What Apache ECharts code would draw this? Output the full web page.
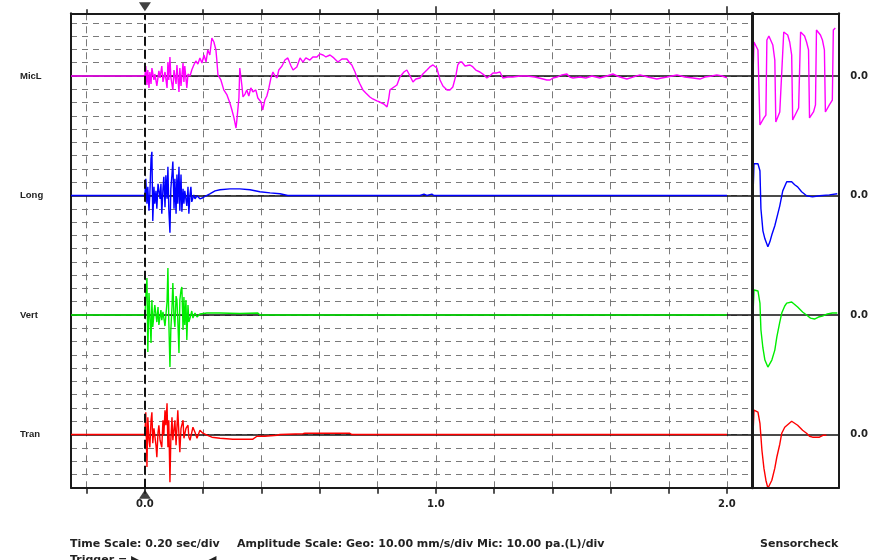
<!DOCTYPE html>
<html><head><meta charset="utf-8">
<script src="https://cdn.jsdelivr.net/npm/echarts@6/dist/echarts.min.js"></script>
<style>html,body{margin:0;padding:0;background:#fff}#c{width:871px;height:560px}</style>
</head><body><div id="c"></div>
<script>
// ---------------- data ----------------
const channels = ['MicL', 'Long', 'Vert', 'Tran'];
const channelColors = ['#ff00ff', '#0000ff', '#00ee00', '#ff0000'];
const sensorZeroLabels = ['0.0', '0.0', '0.0', '0.0'];
const timeTicks = [-0.2, 0, 0.2, 0.4, 0.6, 0.8, 1.0, 1.2, 1.4, 1.6, 1.8, 2.0];
const timeLabels = [0, 1, 2];
const triggerTime = [0];

// main records: [time s, amplitude mm/s (mic: pa)]
const micMain = [[-0.254,0],[-0.232,0],[-0.230,-1.5],[-0.228,0],[-0.105,0],[-0.103,-1.5],[-0.101,0],[-0.029,0],[-0.027,-1.5],[-0.025,0],
[0.000,0],[0.003,7.5],[0.007,-6.8],[0.010,4.5],[0.014,-9.0],[0.017,3.0],[0.021,-6.0],[0.024,6.0],[0.031,-3.0],[0.034,1.5],[0.041,-7.5],[0.048,3.8],[0.052,-1.5],[0.058,7.5],[0.062,-4.5],[0.069,3.0],[0.076,-9.0],[0.079,10.5],[0.082,-3.0],[0.086,14.3],[0.089,-0.8],[0.096,-10.5],[0.100,4.5],[0.107,-6.0],[0.110,8.3],[0.117,-12.0],[0.120,6.0],[0.124,-7.5],[0.131,9.8],[0.134,-4.5],[0.137,7.5],[0.144,-9.0],[0.148,1.5],[0.155,0],
[0.161,4.5],[0.168,8.3],[0.175,11.3],[0.182,9.0],[0.189,13.6],[0.196,9.8],[0.203,15.8],[0.210,10.5],[0.216,19.6],[0.223,15.8],[0.230,28.6],[0.237,25.6],[0.244,19.6],[0.247,12.0],[0.251,0.8],[0.261,-3.0],[0.271,-10.5],[0.282,-14.3],[0.292,-20.3],[0.299,-25.6],[0.306,-31.6],[0.313,-39.2],[0.316,-33.1],[0.323,-16.6],[0.326,6.0],[0.333,-6.8],[0.337,-15.8],[0.344,-13.6],[0.350,-10.5],[0.357,-15.1],[0.364,-9.0],[0.371,-12.0],[0.381,-10.5],[0.388,-16.6],[0.399,-19.6],[0.405,-25.6],[0.412,-18.1],[0.419,-15.1],[0.426,-9.0],[0.433,-1.5],[0.440,3.0],[0.447,0],[0.454,-1.5],[0.460,4.5],[0.471,7.5],[0.481,12.0],[0.491,13.6],[0.502,7.5],[0.509,4.5],[0.515,6.0],[0.522,6.8],[0.533,13.6],[0.543,10.5],[0.553,13.6],[0.567,12.0],[0.577,14.3],[0.591,14.3],[0.601,16.6],[0.612,15.8],[0.622,14.3],[0.636,15.8],[0.649,13.6],[0.663,10.5],[0.677,12.8],[0.694,12.8],[0.704,9.8],[0.711,8.3],[0.722,3.0],[0.728,-0.8],[0.739,-6.0],[0.749,-10.5],[0.759,-12.8],[0.773,-15.8],[0.783,-17.3],[0.797,-18.8],[0.807,-19.6],[0.821,-21.1],[0.832,-23.3],[0.838,-16.6],[0.842,-10.5],[0.856,-8.3],[0.866,-6.8],[0.876,-0.8],[0.890,3.0],[0.900,4.5],[0.911,0],[0.921,-4.5],[0.931,-2.3],[0.945,-1.5],[0.955,1.5],[0.969,4.5],[0.979,6.8],[0.990,8.3],[0.996,9.0],[1.003,6.0],[1.014,-3.0],[1.024,-7.5],[1.038,-10.5],[1.048,-10.5],[1.058,-8.3],[1.069,0.8],[1.075,8.3],[1.082,10.5],[1.089,10.5],[1.100,7.5],[1.106,6.8],[1.117,8.3],[1.127,6.8],[1.137,4.5],[1.151,3.0],[1.165,0.8],[1.175,-1.5],[1.185,0],[1.196,2.3],[1.209,2.3],[1.220,3.0],[1.230,-1.5],[1.247,-0.8],[1.264,-0.8],[1.289,0],[1.313,0],[1.340,-0.8],[1.368,-2.3],[1.381,-3.0],[1.392,-3.0],[1.402,-1.5],[1.416,-0.8],[1.433,0.8],[1.450,1.5],[1.460,-0.8],[1.471,-1.5],[1.495,-0.8],[1.515,-1.5],[1.536,0],[1.563,-1.5],[1.587,0],[1.608,1.5],[1.632,-0.8],[1.656,-2.3],[1.677,-0.8],[1.701,0.8],[1.728,-0.8],[1.759,-2.3],[1.776,-1.5],[1.794,-0.8],[1.811,0],[1.828,0.8],[1.855,-0.8],[1.883,-1.5],[1.907,-2.3],[1.924,-0.8],[1.948,0],[1.965,0.8],[1.983,0],[2.000,-1.5]];

const longMain = [[-0.254,0],[0.000,0],[0.003,12.6],[0.007,-6.2],[0.010,6.5],[0.014,-11.5],[0.017,1.3],[0.021,27.6],[0.024,32.9],[0.027,-19.1],[0.031,6.5],[0.034,-6.2],[0.038,3.5],[0.041,-10.0],[0.045,8.8],[0.052,-2.5],[0.055,8.8],[0.058,-13.8],[0.062,5.0],[0.065,14.1],[0.069,-8.8],[0.072,15.3],[0.076,-2.5],[0.079,21.6],[0.082,-10.0],[0.086,-28.1],[0.089,5.0],[0.093,15.8],[0.096,25.6],[0.100,-10.0],[0.103,12.6],[0.107,-13.8],[0.110,15.8],[0.113,-6.2],[0.117,21.6],[0.120,-11.5],[0.124,15.8],[0.127,-12.3],[0.131,5.0],[0.134,-6.2],[0.137,3.5],[0.144,-7.8],[0.148,6.5],[0.151,-13.8],[0.155,1.3],[0.158,6.5],[0.161,-4.8],[0.168,0.5],[0.172,-2.5],[0.179,-0.2],[0.189,-2.5],[0.199,-1.7],[0.210,-0.2],[0.223,1.3],[0.241,3.5],[0.258,4.3],[0.292,5.0],[0.326,5.0],[0.361,4.3],[0.395,2.8],[0.430,2.0],[0.464,1.3],[0.491,0],[0.931,0],[0.935,1.0],[0.945,0],[0.959,1.0],[0.969,0],[0.986,1.0],[0.993,0],[1.055,0],[1.058,1.0],[1.062,0],[1.447,0],[1.450,1.0],[1.454,0],[2.000,0]];

const vertMain = [[-0.254,0],[0.000,0],[0.003,13.6],[0.007,27.9],[0.010,-27.9],[0.014,16.6],[0.021,-21.1],[0.024,11.3],[0.027,-9.0],[0.034,7.5],[0.041,-5.3],[0.045,6.0],[0.048,-7.5],[0.055,3.8],[0.058,-3.8],[0.062,2.3],[0.069,-8.3],[0.076,9.8],[0.079,35.4],[0.082,-3.8],[0.086,-39.2],[0.089,-11.3],[0.093,6.0],[0.096,24.1],[0.100,-2.3],[0.103,-9.0],[0.107,14.3],[0.110,11.3],[0.113,-3.8],[0.117,-28.6],[0.120,11.3],[0.124,18.8],[0.127,21.1],[0.131,-11.3],[0.134,13.6],[0.137,-7.5],[0.141,11.3],[0.144,-18.8],[0.148,7.5],[0.151,-5.3],[0.155,-2.3],[0.161,3.0],[0.165,-2.3],[0.172,1.5],[0.179,-1.5],[0.189,0.8],[0.213,1.5],[0.258,1.5],[0.326,1.1],[0.388,1.5],[0.395,0],[2.000,0]];

const tranMain = [[-0.254,0],[0.000,0],[0.003,16.8],[0.007,-24.5],[0.010,13.0],[0.014,-4.3],[0.017,-9.6],[0.021,10.8],[0.024,16.8],[0.027,-6.5],[0.031,4.7],[0.034,3.2],[0.038,-8.1],[0.041,-17.1],[0.045,1.7],[0.048,7.0],[0.052,-4.3],[0.058,-9.6],[0.062,10.8],[0.065,-0.5],[0.069,18.3],[0.072,7.0],[0.076,23.6],[0.079,-9.6],[0.082,10.8],[0.086,-35.9],[0.089,-4.3],[0.093,13.0],[0.096,-4.3],[0.103,10.8],[0.107,-8.1],[0.113,18.3],[0.117,-0.5],[0.120,-13.3],[0.124,4.7],[0.131,10.8],[0.134,-2.8],[0.137,-4.3],[0.141,4.7],[0.148,7.0],[0.151,-2.0],[0.155,-4.3],[0.161,-5.8],[0.165,5.5],[0.172,1.7],[0.179,-2.8],[0.189,3.2],[0.199,1.0],[0.213,-0.5],[0.230,-2.0],[0.258,-2.8],[0.302,-3.5],[0.371,-3.5],[0.385,-1.3],[0.412,-1.3],[0.454,-0.5],[0.464,0],[0.543,0.6],[0.550,1.0],[0.704,1.0],[0.711,0],[2.000,0]];

// sensorcheck records: [time ms, amplitude]
const micSensor = [[0,0],[1,25.6],[3,24.1],[5,19.6],[7,-36.9],[9,-38.4],[11,-31.6],[13,-29.4],[14,27.1],[16,30.1],[18,31.6],[20,23.3],[22,12.0],[23,-34.6],[25,-36.1],[27,-27.1],[29,-25.6],[31,33.1],[33,34.6],[35,30.9],[37,25.6],[39,15.8],[40,-33.1],[42,-34.6],[44,-27.1],[46,-24.1],[48,33.1],[50,34.6],[52,30.1],[54,25.6],[56,19.6],[57,-31.6],[59,-33.1],[61,-27.1],[63,-21.8],[64,34.6],[66,36.1],[68,30.9],[70,27.1],[72,19.6],[73,-27.1],[75,-28.6],[77,-21.8],[80,-18.1],[81,34.6],[83,36.1]];
const longSensor = [[0,0],[1,23.9],[5,23.9],[7,18.6],[8,-10.0],[10,-26.6],[12,-32.6],[15,-38.6],[17,-34.9],[19,-29.6],[22,-22.8],[25,-13.8],[27,-7.8],[30,3.5],[34,10.3],[39,10.3],[42,8.1],[45,6.5],[49,2.8],[54,-0.2],[60,-1.0],[67,-0.2],[77,0.5],[85,1.3]];
const vertSensor = [[0,0],[1,18.8],[5,18.1],[7,9.0],[8,-11.3],[10,-24.8],[12,-33.9],[15,-39.2],[19,-33.9],[22,-26.4],[24,-16.6],[27,-5.3],[29,1.5],[32,6.8],[34,9.0],[39,9.8],[45,6.0],[50,2.3],[54,0],[58,-2.3],[62,-3.0],[66,-1.5],[70,-0.8],[75,0.8],[80,1.5],[85,1.5]];
const tranSensor = [[0,0],[1,18.3],[5,16.8],[7,8.5],[9,-11.8],[11,-25.3],[13,-34.4],[15,-40.4],[17,-38.9],[19,-34.4],[22,-25.3],[24,-17.1],[27,-7.3],[29,1.0],[32,5.5],[34,7.0],[39,10.0],[42,8.5],[45,7.0],[50,3.2],[54,1.0],[57,-1.3],[60,-2.0],[67,-2.0],[71,-0.5],[74,-0.5]];

const mainRecords = [micMain, longMain, vertMain, tranMain];
const sensorRecords = [micSensor, longSensor, vertSensor, tranSensor];

// ---------------- layout ----------------
const FONT = '"Liberation Sans", Arial, sans-serif';
const WIDE = '"DejaVu Sans", Verdana, sans-serif';
const PL = 71, PT = 13.3, DIV = 13.28, MW = 681;
const SL = 753, SW = 86;
const BAND = 9 * DIV;
const BG_H = 35.72 * DIV;
const T_MIN = -0.254, T_MAX = 2.086;
const S_MIN = 0, S_MAX = 86;
const AMP_MIN = -42.8, AMP_MAX = 47.2;   // 10 mm/s per division
const DIV_MIN = -4, DIV_MAX = 31.72;
const INK = '#1a1a1a';
const GRIDC = '#7a7a7a';

const grid = [], xAxis = [], yAxis = [], series = [];
const off = {show: false};

// background main box (grid 0)
grid.push({left: PL, top: PT, width: MW, height: BG_H});
// background sensorcheck box (grid 1)
grid.push({left: SL, top: PT, width: SW, height: BG_H});

xAxis.push({gridIndex: 0, type: 'value', position: 'bottom', min: T_MIN, max: T_MAX, minInterval: 0.2, maxInterval: 0.2,
  axisLine: {show: true, onZero: false, lineStyle: {color: INK, width: 2}},
  axisTick: {show: true, customValues: timeTicks, length: 6, lineStyle: {color: INK, width: 1.5}},
  axisLabel: {show: true, customValues: timeLabels, formatter: v => Number(v).toFixed(1), margin: 12,
    fontSize: 10, fontWeight: 'bold', color: '#222', fontFamily: WIDE},
  splitLine: {show: true, lineStyle: {color: GRIDC, width: 1, type: [7, 6]}}, z: 0});
xAxis.push({gridIndex: 0, type: 'value', position: 'top', min: T_MIN, max: T_MAX, minInterval: 0.2, maxInterval: 0.2,
  axisLine: {show: true, onZero: false, lineStyle: {color: INK, width: 2}},
  axisTick: {show: true, customValues: timeTicks.filter(v => v !== 0), length: 4, lineStyle: {color: INK, width: 1.5}},
  axisLabel: off, splitLine: off, z: 5});
xAxis.push({gridIndex: 0, type: 'value', position: 'top', min: T_MIN, max: T_MAX,
  axisLine: {show: false, onZero: false},
  axisTick: {show: true, customValues: timeLabels.filter(v => v !== 0), length: 7, lineStyle: {color: INK, width: 1.5}},
  axisLabel: off, splitLine: off, z: 5});
yAxis.push({gridIndex: 0, type: 'value', position: 'left', min: DIV_MIN, max: DIV_MAX, minInterval: 1, maxInterval: 1,
  axisLine: {show: true, onZero: false, lineStyle: {color: INK, width: 2}},
  axisTick: off, axisLabel: off,
  splitLine: {show: true, lineStyle: {color: GRIDC, width: 1, type: [6, 5]}}, z: 0});
yAxis.push({gridIndex: 0, type: 'value', position: 'right', min: DIV_MIN, max: DIV_MAX,
  axisLine: {show: true, onZero: false, lineStyle: {color: INK, width: 3}},
  axisTick: off, axisLabel: off, splitLine: off, z: 5});

// sensorcheck box border
xAxis.push({gridIndex: 1, type: 'value', position: 'bottom', min: S_MIN, max: S_MAX,
  axisLine: {show: true, onZero: false, lineStyle: {color: INK, width: 2}}, axisTick: off, axisLabel: off, splitLine: off, z: 5});
xAxis.push({gridIndex: 1, type: 'value', position: 'top', min: S_MIN, max: S_MAX,
  axisLine: {show: true, onZero: false, lineStyle: {color: INK, width: 2}}, axisTick: off, axisLabel: off, splitLine: off, z: 5});
yAxis.push({gridIndex: 1, type: 'value', position: 'left', min: DIV_MIN, max: DIV_MAX,
  axisLine: {show: true, onZero: false, lineStyle: {color: INK, width: 2}}, axisTick: off, axisLabel: off, splitLine: off, z: 5});
yAxis.push({gridIndex: 1, type: 'value', position: 'right', min: DIV_MIN, max: DIV_MAX,
  axisLine: {show: true, onZero: false, lineStyle: {color: INK, width: 2}}, axisTick: off, axisLabel: off, splitLine: off, z: 5});

// trigger line and markers
series.push({type: 'line', xAxisIndex: 0, yAxisIndex: 0, data: [], silent: true, z: 4,
  markLine: {silent: true, symbol: 'none', label: {show: false}, animation: false,
    lineStyle: {color: '#111', width: 2, type: [9, 4]},
    data: triggerTime.map(t => ({xAxis: t}))}});
series.push({type: 'scatter', xAxisIndex: 0, yAxisIndex: 0, clip: false, silent: true, z: 6,
  data: triggerTime.map(t => [t, DIV_MAX]), symbol: 'triangle', symbolSize: [12, 9], symbolRotate: 180,
  symbolOffset: [0, -6.5], itemStyle: {color: '#111'}});
series.push({type: 'scatter', xAxisIndex: 0, yAxisIndex: 0, clip: false, silent: true, z: 6,
  data: triggerTime.map(t => [t, DIV_MIN]), symbol: 'triangle', symbolSize: [12, 9], symbolRotate: 0,
  symbolOffset: [0, 6.5], itemStyle: {color: '#111'}});

// channel grids
channels.forEach((name, i) => {
  const top = PT + BAND * i;
  const gMain = grid.length;
  grid.push({left: PL, top: top, width: MW, height: BAND});
  const gSens = grid.length;
  grid.push({left: SL, top: top, width: SW, height: BAND});

  const xm = xAxis.length;
  xAxis.push({gridIndex: gMain, type: 'value', min: T_MIN, max: T_MAX,
    axisLine: {show: true, onZero: true, lineStyle: {color: '#111', width: 1.5}},
    axisTick: off, axisLabel: off, splitLine: off, z: 1});
  const ym = yAxis.length;
  yAxis.push({gridIndex: gMain, type: 'value', position: 'left', min: AMP_MIN, max: AMP_MAX,
    axisLine: off, axisTick: off, splitLine: off,
    axisLabel: {show: true, customValues: [0], formatter: () => name, align: 'left', margin: 51,
      fontSize: 9.5, fontWeight: 'bold', color: '#222', fontFamily: FONT}, z: 1});
  const xs = xAxis.length;
  xAxis.push({gridIndex: gSens, type: 'value', min: S_MIN, max: S_MAX,
    axisLine: {show: true, onZero: true, lineStyle: {color: '#111', width: 1.5}},
    axisTick: off, axisLabel: off, splitLine: off, z: 1});
  const ys = yAxis.length;
  yAxis.push({gridIndex: gSens, type: 'value', position: 'right', min: AMP_MIN, max: AMP_MAX,
    axisLine: off, axisTick: off, splitLine: off,
    axisLabel: {show: true, customValues: [0], formatter: () => sensorZeroLabels[i], align: 'left', margin: 12,
      fontSize: 10, fontWeight: 'bold', color: '#222', fontFamily: WIDE}, z: 1});

  series.push({type: 'line', name: name, xAxisIndex: xm, yAxisIndex: ym, data: mainRecords[i],
    showSymbol: false, symbol: 'none', z: 3, lineStyle: {color: channelColors[i], width: 1.4},
    itemStyle: {color: channelColors[i]}});
  series.push({type: 'line', name: name + ' sensorcheck', xAxisIndex: xs, yAxisIndex: ys, data: sensorRecords[i],
    showSymbol: false, symbol: 'none', z: 3, lineStyle: {color: channelColors[i], width: 1.4},
    itemStyle: {color: channelColors[i]}});
});

const textStyle = (t, size) => ({text: t, font: 'bold ' + size + 'px ' + WIDE, fill: '#222'});
const option = {
  animation: false,
  backgroundColor: '#ffffff',
  grid, xAxis, yAxis, series,
  graphic: [
    {type: 'text', left: 70, top: 539, style: textStyle('Time Scale: 0.20 sec/div', 11)},
    {type: 'text', left: 237, top: 539, style: textStyle('Amplitude Scale: Geo: 10.00 mm/s/div Mic: 10.00 pa.(L)/div', 11)},
    {type: 'text', left: 760, top: 539, style: textStyle('Sensorcheck', 11)},
    {type: 'text', left: 70, top: 555, style: textStyle('Trigger = \u25B6', 11)},
    {type: 'text', left: 208, top: 555, style: textStyle('\u25C0', 11)}
  ]
};
const chart = echarts.init(document.getElementById('c'), null, {renderer: 'canvas'});
chart.setOption(option);
</script>
</body></html>
